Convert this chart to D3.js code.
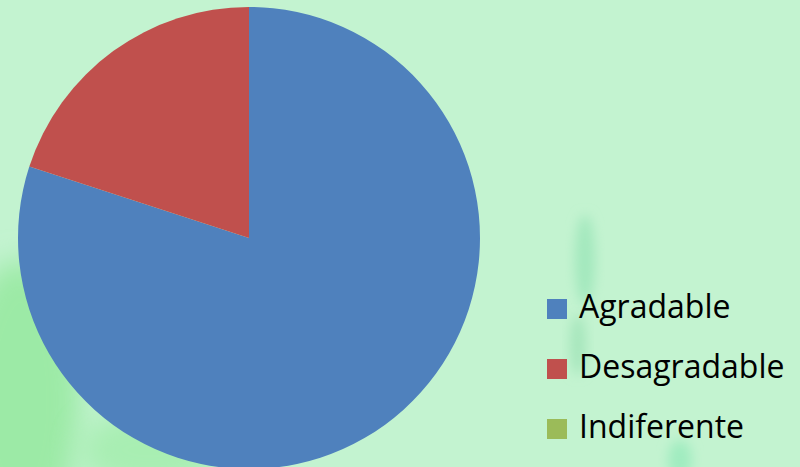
<!DOCTYPE html>
<html><head><meta charset="utf-8">
<script src="https://cdn.jsdelivr.net/npm/d3@7"></script>
<style>html,body{margin:0;padding:0;background:#c3f3d0;overflow:hidden}</style>
</head><body>
<svg id="c" width="800" height="467"></svg>
<script>
const categories = ["Agradable", "Desagradable", "Indiferente"];
const values = [80, 20, 0];
const colors = ["#4f81bd", "#c0504d", "#9bbb59"];

const svg = d3.select("#c");
const defs = svg.append("defs");
const f = defs.append("filter").attr("id","blur").attr("x","-50%").attr("y","-50%").attr("width","200%").attr("height","200%");
f.append("feGaussianBlur").attr("stdDeviation", 14);
const f2 = defs.append("filter").attr("id","blur2").attr("x","-50%").attr("y","-50%").attr("width","200%").attr("height","200%");
f2.append("feGaussianBlur").attr("stdDeviation", 6);

svg.append("rect").attr("width",800).attr("height",467).attr("fill","#c3f3d0");
// background texture
const bg = svg.append("g");
bg.append("ellipse").attr("cx",20).attr("cy",400).attr("rx",60).attr("ry",140).attr("fill","#9ceaa6").attr("filter","url(#blur)");
bg.append("ellipse").attr("cx",150).attr("cy",450).attr("rx",70).attr("ry",40).attr("fill","#a8eeb2").attr("filter","url(#blur)");
bg.append("ellipse").attr("cx",585).attr("cy",260).attr("rx",10).attr("ry",45).attr("fill","#a3e8bd").attr("filter","url(#blur2)");
bg.append("ellipse").attr("cx",578).attr("cy",345).attr("rx",8).attr("ry",30).attr("fill","#a6e6bc").attr("filter","url(#blur2)");
bg.append("ellipse").attr("cx",680).attr("cy",460).attr("rx",12).attr("ry",20).attr("fill","#a0ecc0").attr("filter","url(#blur2)");

const cx = 249, cy = 238, r = 231;
const pie = d3.pie().sort(null).value(d => d.v);
const data = categories.map((c,i)=>({c, v: values[i], col: colors[i]}));
const arc = d3.arc().innerRadius(0).outerRadius(r);
svg.append("g").attr("transform",`translate(${cx},${cy})`)
  .selectAll("path").data(pie(data).filter(d=>d.data.v>0)).join("path")
  .attr("d", arc).attr("fill", d=>d.data.col);

const leg = svg.append("g").attr("transform","translate(547,299)");
const items = leg.selectAll("g").data(data).join("g").attr("transform",(d,i)=>`translate(0,${i*60})`);
items.append("rect").attr("width",20).attr("height",20).attr("fill",d=>d.col);
items.append("text").attr("x",32).attr("y",19).text(d=>d.c)
  .attr("font-family","Open Sans, sans-serif").attr("font-size",32).attr("fill","#000");
</script>
</body></html>
